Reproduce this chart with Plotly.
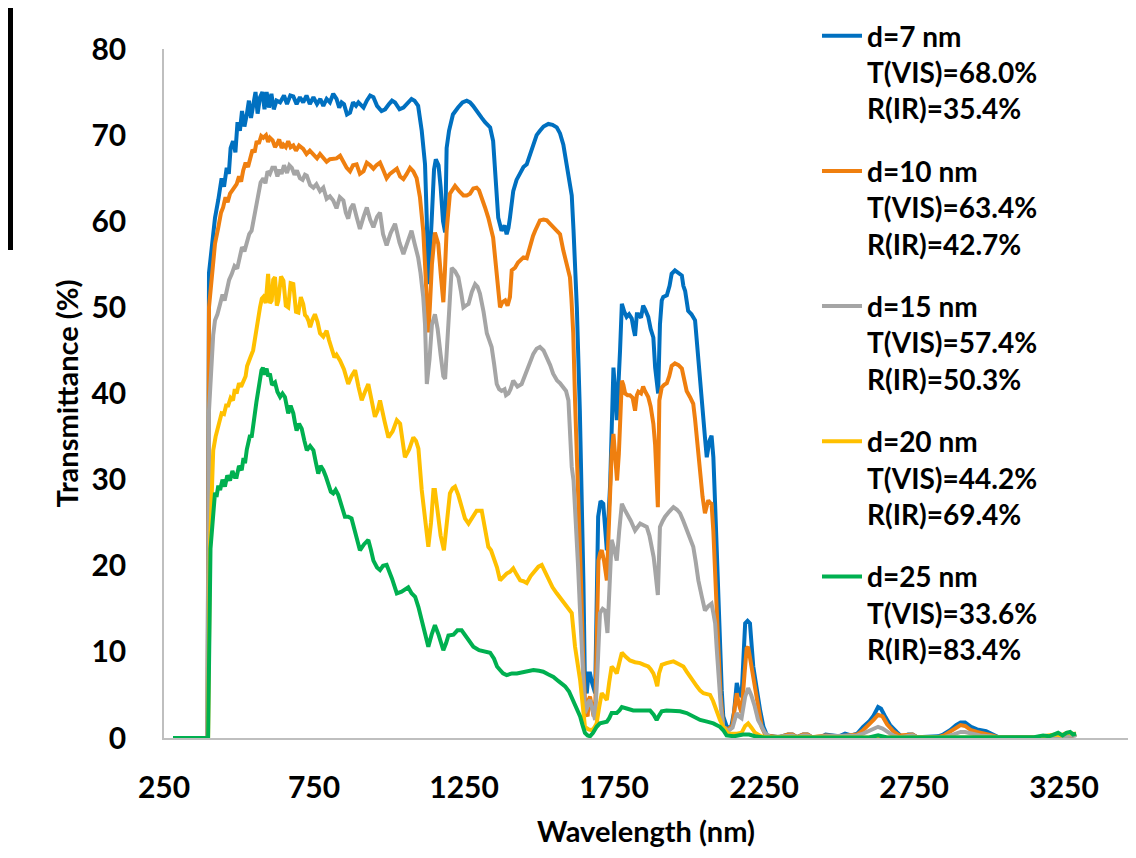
import plotly.graph_objects as go

# ---- data (wavelength nm, transmittance %) ----
wl_d7 = [280,395,400,409,420,431,442,450,459,466,472,480,488,495,503,510,518,526,533,540,547,555,562,570,578,585,592,600,608,616,625,637,650,660,671,681,692,703,714,725,736,748,760,771,781,792,803,814,825,834,842,850,860,870,880,890,898,907,915,926,937,948,960,975,987,1000,1010,1020,1035,1048,1060,1075,1085,1097,1109,1120,1126,1131,1142,1150,1156,1165,1172,1180,1187,1192,1200,1213,1230,1245,1259,1270,1280,1295,1309,1320,1337,1347,1353,1364,1375,1385,1392,1398,1403,1414,1425,1437,1448,1459,1470,1481,1492,1503,1515,1531,1545,1559,1570,1581,1590,1598,1609,1615,1626,1636,1642,1648,1653,1659,1665,1670,1676,1687,1697,1705,1714,1720,1726,1737,1748,1754,1759,1770,1776,1784,1792,1800,1809,1815,1820,1826,1831,1840,1847,1853,1864,1872,1881,1887,1892,1897,1903,1909,1914,1926,1935,1942,1953,1965,1976,1981,1987,1997,2008,2020,2026,2031,2037,2045,2053,2059,2068,2075,2081,2087,2092,2098,2103,2109,2114,2126,2140,2150,2159,2167,2175,2187,2195,2203,2214,2225,2237,2248,2260,2300,2330,2345,2360,2380,2395,2410,2440,2455,2475,2500,2520,2540,2560,2580,2600,2615,2630,2640,2655,2670,2692,2710,2730,2745,2760,2800,2830,2847,2870,2890,2905,2920,2940,2960,2990,3013,3030,3200,3240,3270,3290]
T_d7 = [0,0,54,57.4,60.4,62.5,65,64,66.2,65.5,68.5,69.3,68,71.5,70.5,72.8,71,72.4,74,72,73.6,75,72.5,74.4,75,73,75,73.2,74.8,73,74,73.8,74.6,73.6,74.6,74.5,73.6,74.4,73.8,74.6,73.6,74.4,73.6,74.2,73.4,74.2,73.8,74.8,74.2,73.2,73.8,73.6,72.4,72.6,73.8,73.4,73.8,73.4,73.2,74,74.6,74.4,73.4,72.8,73,73.6,74,73.8,73,73.2,73.6,74.2,74,73.4,70.5,66.6,60,52.7,60,66,67.2,66.5,64,60,58.7,68.5,70.5,72.4,73.2,73.8,74,73.8,73.4,72.6,72,71.5,70.9,69.3,65.9,60.4,58.9,59.5,58.5,59.2,60.4,63.5,64.8,65.5,66.3,66.6,67.8,68.9,70,70.5,71,71.3,71.2,70.9,70.2,68.9,67,65,63,58.9,50,38,29.5,18,6,5.2,7.5,7.5,6.5,5.2,25.7,27.5,27.2,24,21.8,29.5,43,40,36.9,45,50.4,49.5,48.9,49.2,48.7,47.5,46.7,49.2,49.2,48.8,50.2,49.8,48.9,47.5,46.5,43,41,40,48,50.8,51.2,51.4,52.5,53.9,54.3,54,53.7,52.5,51.9,49.6,49.2,48.5,46,43.8,40.3,37.5,34.9,32.6,34.5,35.1,32.6,27,21.8,15,10.2,5.5,2.5,1.3,1.2,3,6.4,5.2,4.8,13.3,13.6,13.3,8.3,5.5,3.2,1.3,0.3,0.1,0.4,0.4,0.1,0.4,0.4,0.1,0.1,0.4,0.3,0.2,0.5,0.3,0.5,1.3,1.9,2.6,3.6,3.4,2.4,1.5,0.7,0.1,0.4,0.4,0.1,0.1,0.2,0.4,0.9,1.5,1.8,1.8,1.3,1.0,0.8,0.4,0.1,0.1,0.3,0.2,0.4]

wl_d10 = [280,395,400,409,415,420,431,440,447,455,462,470,480,492,500,507,514,522,530,537,545,552,559,566,574,581,590,597,603,612,620,626,634,642,648,656,664,672,681,690,700,714,725,736,748,760,770,781,792,803,814,825,837,848,859,870,880,892,903,915,926,937,948,958,970,980,992,1003,1015,1026,1037,1048,1059,1070,1081,1092,1103,1114,1120,1126,1131,1136,1143,1153,1164,1172,1181,1186,1192,1203,1212,1220,1234,1248,1259,1270,1281,1292,1300,1309,1320,1331,1340,1347,1353,1359,1365,1370,1378,1387,1395,1403,1409,1420,1430,1437,1448,1459,1465,1472,1480,1487,1495,1503,1515,1526,1537,1547,1558,1570,1581,1592,1603,1608,1614,1620,1625,1631,1640,1648,1655,1662,1666,1670,1675,1682,1688,1693,1698,1704,1709,1717,1726,1732,1737,1742,1748,1755,1760,1766,1771,1776,1781,1787,1795,1803,1812,1820,1826,1831,1840,1847,1853,1864,1872,1881,1887,1892,1896,1901,1909,1917,1926,1934,1942,1953,1965,1976,1985,1992,2003,2014,2020,2026,2031,2037,2045,2053,2058,2064,2070,2075,2081,2087,2092,2098,2105,2114,2130,2145,2152,2159,2167,2175,2185,2192,2197,2205,2217,2230,2242,2255,2300,2330,2345,2360,2380,2395,2410,2455,2500,2530,2560,2580,2600,2615,2630,2645,2660,2680,2700,2730,2745,2760,2830,2850,2870,2890,2905,2920,2940,2960,2990,3010,3030,3200,3240,3270,3290]
T_d10 = [0,0,50,53.1,56,57.4,59.3,61,61.6,62.8,62.2,63.2,63.7,64.3,65.2,64.6,65.9,66.8,66.3,67.4,68.3,68,69.3,69,69.9,69.7,70,69.2,69.7,69.4,68.6,68.9,69.5,68.5,68.9,68.6,69.3,68.6,68.8,68.2,68.8,68.4,67.8,68.2,67.8,67.3,67.8,67.4,66.9,67.2,67.2,67.3,67.6,66.8,66.2,65.8,66.5,66.6,65.5,65.8,66.8,66.5,66.1,66.5,66.8,66,65,65.5,65.8,66.1,65.2,64.9,65.5,66.2,65.8,65,62.8,58.9,55,51.2,47.1,50,55,58.7,57.4,54,50.6,54,58.9,63.2,63.8,64.1,63.5,63,63,63.2,63.8,63.9,63.6,62.8,61.6,60.4,59.3,58.1,56,53.5,51.5,50,50.6,50.8,50.2,51.2,54.3,54.6,55.2,55.4,55.8,55.7,56.5,57.4,58.3,58.9,59.5,60.1,60.2,60.1,59.7,59.3,58.9,58.5,56.6,55,53.5,51,47,39.2,34,29.5,18,8,3,2.5,4.5,4.8,3.5,2.5,4.5,12,20.6,21.5,21.8,20.5,18.3,24,29.9,33,35.3,32,29.9,33,38,41.5,41,40,39.8,39.8,39.5,38,39.8,40.2,40,40.8,40.3,39.6,38.5,36.5,34,29.5,26.8,39.2,40.7,41,41.2,42,43.2,43.5,43.3,42.9,41.6,40.3,39.6,38.8,37,34.9,32.5,30.3,28,26.1,26.8,27.6,27.3,27.2,24,19.9,15,10.2,5,1.3,1.0,1.5,3.5,5.2,3.8,2.9,7.5,10.4,10.6,9,6.7,3.5,1.3,0.3,0.1,0.4,0.4,0.1,0.4,0.4,0.1,0.3,0.2,0.3,0.4,0.9,1.5,2.1,2.7,2.5,1.6,0.8,0.3,0.4,0.4,0.1,0.1,0.3,0.7,1.1,1.5,1.4,0.9,0.7,0.5,0.3,0.1,0.1,0.3,0.2,0.4]

wl_d15 = [280,395,400,405,409,414,420,428,437,445,452,459,467,476,485,494,503,510,518,526,534,542,550,555,559,565,572,581,588,595,603,611,620,628,635,642,650,660,668,676,685,693,703,712,720,726,737,748,758,770,781,792,803,814,825,836,848,856,864,872,881,892,903,915,926,937,948,960,970,980,992,1005,1020,1035,1048,1062,1075,1086,1097,1105,1114,1120,1126,1135,1143,1153,1162,1172,1181,1187,1195,1203,1209,1220,1231,1240,1248,1256,1265,1276,1287,1295,1303,1315,1326,1334,1342,1350,1359,1367,1375,1385,1390,1398,1405,1414,1428,1442,1450,1459,1470,1481,1492,1503,1515,1526,1537,1547,1560,1570,1581,1590,1598,1604,1609,1615,1620,1630,1637,1645,1653,1660,1665,1670,1678,1687,1695,1703,1712,1720,1728,1735,1742,1750,1759,1767,1776,1784,1792,1806,1820,1830,1837,1848,1859,1868,1876,1882,1887,1892,1896,1900,1903,1912,1920,1934,1948,1960,1970,1981,1992,2003,2014,2022,2031,2042,2053,2064,2075,2081,2087,2092,2098,2106,2114,2130,2145,2152,2159,2167,2175,2187,2197,2207,2218,2230,2242,2253,2270,2330,2345,2360,2380,2395,2410,2455,2560,2580,2600,2615,2630,2645,2660,2680,2700,2730,2745,2760,2850,2880,2905,2920,2940,2970,3000,3030,3200,3240,3290]
T_d15 = [0,0,38,42,45.4,46.8,48.5,49.2,50.4,51.5,50.8,51.9,53.2,53.9,54.8,54.5,55.8,57,56.5,57.4,58.5,58.9,60.5,61.6,62,63.4,64.5,65,64.4,65.8,65.5,66.2,66.2,65.2,66,65.5,66.5,65.6,66.5,66.2,65.4,65.9,65,64.8,65.4,65.3,64.2,63.9,64.3,63.5,63.9,62.6,62.9,62.4,61.5,62.8,62.4,61,60.3,61.5,62,60.5,59.1,60.5,61.6,60.2,59.3,60.5,61,58.5,57.2,58.6,59.7,57.5,56.2,57.6,58.9,57.3,55.8,54,51.2,48,41.1,44,48,49.2,47.5,44.5,42,41.7,47,52,54.6,54.2,53.5,51.8,50,50.2,50.4,51.8,52.7,52.4,51.6,49.5,47,46.2,45.4,43.5,41.1,40.5,40.3,40.5,39.8,40,40.5,41.5,40.8,41.1,41.8,42.7,43.6,44.6,45.2,45.4,45,44.2,43.3,42.3,41.5,41.2,40.7,40.3,39.2,35,31.5,29.9,27,20,14.5,8,2.9,3.5,4.2,4.4,3.5,2.1,8,14.5,15,14.8,12.2,18,23,22,20.6,24,27.2,26.6,26.1,25.2,24.1,24.5,24.9,24.7,24.5,23.5,22.2,21,19.5,18,16.6,21,24.5,25.2,25.7,26.3,26.8,26.5,26.1,25.2,24.1,23.2,22.2,20.5,18.3,16.5,14.8,15.3,15.6,14.5,13.3,10.5,7.1,3.5,1.3,0.8,1.2,2.2,2.9,2.5,2.3,4.8,5.8,5,3.8,2.1,1.2,0.6,0.1,0.3,0.3,0.1,0.3,0.3,0.1,0.2,0.3,0.5,0.8,1.0,1.3,1.1,0.7,0.3,0.1,0.3,0.3,0.1,0.1,0.4,0.7,0.7,0.5,0.3,0.2,0.1,0.1,0.2,0.3]

wl_d20 = [280,397,403,408,414,422,431,436,442,450,457,464,472,480,486,492,500,507,514,522,527,531,539,547,553,559,565,570,576,581,589,597,603,609,614,620,626,631,640,648,656,664,672,681,690,698,706,714,720,726,732,737,745,753,762,770,781,792,800,809,818,825,837,850,864,875,887,898,909,920,931,942,953,962,970,985,998,1012,1026,1037,1053,1067,1081,1090,1098,1109,1120,1131,1140,1148,1153,1164,1172,1183,1192,1203,1212,1220,1231,1242,1253,1265,1278,1292,1309,1320,1331,1340,1348,1360,1370,1381,1392,1403,1414,1425,1437,1448,1459,1472,1487,1498,1509,1520,1531,1545,1559,1573,1587,1598,1609,1620,1630,1637,1645,1653,1665,1676,1684,1692,1700,1709,1718,1726,1734,1742,1750,1759,1768,1776,1790,1803,1820,1837,1850,1864,1872,1881,1888,1894,1900,1909,1925,1948,1965,1981,1992,2003,2015,2026,2037,2048,2060,2070,2080,2087,2095,2103,2114,2130,2160,2175,2187,2197,2208,2220,2240,2260,2400,2450,3150,3180,3200,3220,3240,3260,3280,3290]
T_d20 = [0,0,21.8,29,33.4,35,36.1,36.8,37.7,37.6,38.6,38.6,39.5,39.2,40.5,40,41.2,40.8,41.5,42,43.2,43.5,44.3,45,46.5,47.7,49.5,50,51,51.2,50.5,53.9,50.5,50.8,53.2,53.5,50.2,50.8,53.6,53.1,50.2,50,52.8,52.7,49.5,49.4,51.2,50.4,49.1,48.9,48.4,47.7,48.6,49.2,48.3,47,46.6,47.3,46.2,45,44.2,44.5,43.8,42.8,41.1,42,42.7,40.8,39.2,40.2,41.1,39.2,37.3,38,39.2,36.8,34.9,35.6,36.9,36.5,32.6,33.5,34.9,34.5,33.6,28.8,25.2,22.2,25,28.8,28.8,25.7,23.5,21.8,25,28.4,29,29.2,28.2,26.8,25.5,24.9,25.6,26.4,26.4,24.5,22.2,21.8,21,19.8,18.3,18.7,19.1,19.3,19.7,19,18.3,18.2,18,18.8,19.5,19.9,20.1,19.3,18.3,17.5,16.8,16.2,15.6,15,14.5,10.6,8.5,6.7,4,1.3,1,0.9,1.2,1.7,3.5,5.2,4.8,4.4,6.5,8.3,8,7.5,8.8,9.9,9.4,9,8.8,8.7,8.5,8.3,8,7.5,6.8,6,7.5,8.5,8.7,8.9,8.6,8.3,7.7,7.1,6.5,6,5.5,5.2,5.1,5,4.3,3.6,2.8,2.1,1.3,0.5,0.5,0.6,1.4,1.7,1.2,0.6,0.2,0.1,0.1,0.05,0.05,0.2,0.3,0.4,0.3,0.6,0.5,0.5]

wl_d25 = [280,397,405,414,420,425,431,437,445,453,461,470,478,486,492,500,509,515,520,526,531,537,542,548,553,558,564,570,575,580,585,592,597,603,610,620,628,637,645,653,658,664,672,681,687,692,700,709,718,726,737,748,756,764,772,781,790,798,806,814,822,831,842,853,864,875,890,903,917,931,940,948,960,970,980,992,1010,1026,1042,1059,1064,1075,1087,1098,1109,1120,1131,1142,1153,1165,1181,1190,1198,1215,1228,1242,1260,1281,1300,1320,1337,1350,1360,1370,1380,1392,1410,1426,1450,1481,1500,1514,1530,1548,1565,1587,1600,1614,1625,1637,1645,1653,1662,1670,1680,1692,1703,1715,1726,1734,1742,1750,1759,1768,1776,1795,1814,1840,1870,1882,1892,1900,1909,1925,1948,1970,1992,2015,2037,2060,2081,2103,2114,2125,2150,2180,2200,2220,2250,2600,2630,2660,3120,3150,3180,3200,3215,3230,3245,3258,3270,3280,3290]
T_d25 = [0,0,22,26.8,28.5,28,29.3,28.8,30,29.2,30.5,29.9,31,30.3,30.3,31.6,31.1,32.5,31.9,33.5,34.2,35.2,34.9,36.8,37.7,39,40.3,41.8,42.7,43,42.2,42.9,42,42.3,41,41.3,40.2,39.6,40,39.6,38.5,37.7,38.6,37.7,36.5,35.7,36.5,35.9,34.5,33.4,33.9,33.4,32,30.7,31.6,31.1,30.3,29.5,28.6,28.4,28.8,28.2,27,25.7,25.7,25.5,23.5,21.8,22.5,23,21.8,20.6,19.8,19.5,20,20.1,18.5,16.8,17,17.4,17.5,16.8,16.4,15.2,13.7,11.8,10.6,12,13.1,12,10.2,11,11.9,12,12.5,12.5,11.6,10.6,10.2,10,9.9,9.2,8.3,7.9,7.5,7.3,7.5,7.5,7.7,7.9,7.8,7.7,7.4,7.1,6.6,6,5.4,4.4,3.5,2.5,1.5,0.6,0.3,0.2,0.6,1.3,1.7,1.8,1.9,2.3,2.9,2.9,2.9,3.2,3.6,3.4,3.2,3.2,3.2,2.7,2.1,2.6,3.1,3.2,3.2,3.1,2.9,2.5,2.1,1.9,1.7,1.3,0.9,0.3,0.2,0.4,0.4,0.2,0.05,0.05,0.3,0.05,0.05,0.1,0.3,0.2,0.4,0.6,0.3,0.6,0.7,0.4,0.5]

series_names = [
    "d=7 nm<br>T(VIS)=68.0%<br>R(IR)=35.4%",
    "d=10 nm<br>T(VIS)=63.4%<br>R(IR)=42.7%",
    "d=15 nm<br>T(VIS)=57.4%<br>R(IR)=50.3%",
    "d=20 nm<br>T(VIS)=44.2%<br>R(IR)=69.4%",
    "d=25 nm<br>T(VIS)=33.6%<br>R(IR)=83.4%",
]
series_x = [wl_d7, wl_d10, wl_d15, wl_d20, wl_d25]
series_y = [T_d7, T_d10, T_d15, T_d20, T_d25]
colors = ["#0070C0", "#EF7F0F", "#A5A5A5", "#FFC000", "#00B050"]

x_ticks = [250, 750, 1250, 1750, 2250, 2750, 3250]
y_ticks = [0, 10, 20, 30, 40, 50, 60, 70, 80]

FONT = "Lato"
# page body has an 8px default margin; plot area is laid out so that it lands
# at x 164..1128, y 49..738 in the browser window
PW, PH = 964, 689


def px(p):
    return (p - 164) / PW


def py(p):
    return (738 - p) / PH


fig = go.Figure()
for i, (xs, ys, nm, c) in enumerate(zip(series_x, series_y, series_names, colors)):
    fig.add_trace(go.Scatter(
        x=xs, y=ys, mode="lines", name=nm, legendgroup=f"g{i}",
        line=dict(color=c, width=4), hoverinfo="skip",
    ))

fig.update_layout(
    width=1120, height=842,
    margin=dict(l=156, r=0, t=41, b=112, autoexpand=False),
    paper_bgcolor="white", plot_bgcolor="white",
    font=dict(family=FONT, color="black", weight="bold"),
    showlegend=True,
    legend=dict(
        x=px(817), y=py(11), xanchor="left", yanchor="top",
        font=dict(family=FONT, size=28, color="black", weight="bold"),
        valign="top", tracegroupgap=23, bgcolor="rgba(0,0,0,0)",
        maxheight=820, itemwidth=40,
        itemclick=False, itemdoubleclick=False,
    ),
    xaxis=dict(
        range=[250, 3463], tickmode="array", tickvals=x_ticks,
        ticktext=[str(v) for v in x_ticks],
        showgrid=False, zeroline=False, showline=True,
        linecolor="#BFBFBF", linewidth=1.5, ticks="",
        ticklabelstandoff=22,
        tickfont=dict(family=FONT, size=30, color="black", weight="bold"),
        title=dict(text="Wavelength (nm)", standoff=19,
                   font=dict(family=FONT, size=29, color="black", weight="bold")),
    ),
    yaxis=dict(
        range=[0, 80], tickmode="array", tickvals=y_ticks,
        showgrid=False, zeroline=False, showline=True,
        linecolor="#BFBFBF", linewidth=1.5, ticks="",
        ticklabelstandoff=30,
        tickfont=dict(family=FONT, size=30, color="black", weight="bold"),
        title=dict(text="Transmittance (%)", standoff=4,
                   font=dict(family=FONT, size=29, color="black", weight="bold")),
    ),
    shapes=[
        dict(type="line", xref="paper", yref="paper",
             x0=px(10.5), x1=px(10.5), y0=py(-10), y1=py(250),
             line=dict(color="black", width=5)),
        dict(type="line", xref="paper", yref="paper",
             x0=px(-10), x1=px(13), y0=py(248), y1=py(248),
             line=dict(color="black", width=4)),
    ],
)

fig.write_html("out.html")
